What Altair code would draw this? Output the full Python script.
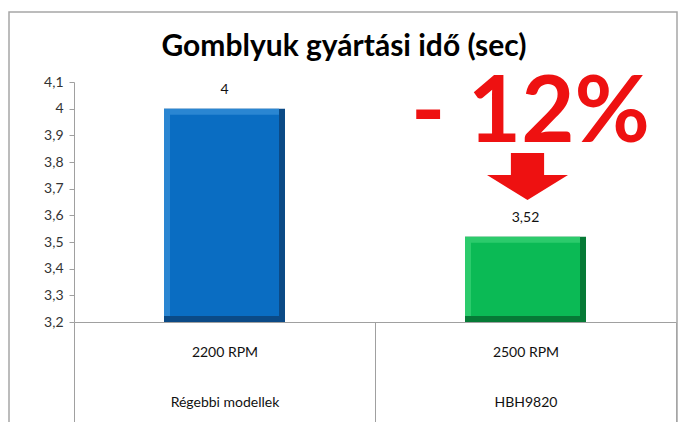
import altair as alt
import pandas as pd

# ---- data ----
rpm = ["2200 RPM", "2500 RPM"]
models = ["Régebbi modellek", "HBH9820"]
values = [4.0, 3.52]
value_labels = ["4", "3,52"]
y_ticks = [3.2, 3.3, 3.4, 3.5, 3.6, 3.7, 3.8, 3.9, 4.0, 4.1]
chart_title = "Gomblyuk gyártási idő (sec)"
change_text = "- 12%"

# ---- styles ----
edge_colors = ["#0b4a86", "#067a36"]
light_colors = ["#2a86d2", "#2ccb6c"]
main_colors = ["#0a6dc2", "#0bba55"]
RED = "#ee1111"
GREY = "#a0a0a0"
FONT = "Lato"

cats = [f"{r}\n{m}" for r, m in zip(rpm, models)]
df = pd.DataFrame({"cat": cats, "value": values, "label": value_labels})
ann = pd.DataFrame({"cat": [cats[1]], "text": [change_text]})
ttl = pd.DataFrame({"text": [chart_title]})

W, H = 602, 240

x = alt.X(
    "cat:N",
    sort=cats,
    scale=alt.Scale(domain=cats, paddingInner=0, paddingOuter=0),
    axis=alt.Axis(
        title=None,
        labelAngle=0,
        labelExpr="split(datum.label, '\\n')",
        labelLineHeight=50,
        labelFontSize=14,
        labelFont=FONT,
        labelColor="#111111",
        labelBaseline="top",
        tickBand="extent",
        tickSize=105,
        tickColor=GREY,
        domainColor=GREY,
        labelPadding=-82,
    ),
)
y = alt.Y(
    "value:Q",
    scale=alt.Scale(domain=[3.2, 4.1], nice=False, zero=False),
    axis=alt.Axis(
        title=None,
        values=y_ticks,
        labelExpr="replace(format(datum.value, '.1~f'), '.', ',')",
        grid=False,
        tickSize=5,
        tickColor=GREY,
        domainColor=GREY,
        labelFont=FONT,
        labelFontSize=14,
        labelColor="#333333",
        labelPadding=6,
    ),
)

base = alt.Chart(df)

def col(rng):
    return alt.Color("cat:N", scale=alt.Scale(domain=cats, range=rng), legend=None)

edge = base.mark_bar(size=121).encode(x=x, y=y, y2=alt.datum(3.2), color=col(edge_colors))
light = base.mark_bar(size=115, xOffset=-3, y2Offset=-6).encode(
    x=x, y=y, y2=alt.datum(3.2), color=col(light_colors)
)
main = base.mark_bar(size=109, yOffset=6, y2Offset=-6).encode(
    x=x, y=y, y2=alt.datum(3.2), color=col(main_colors)
)
labels = base.mark_text(baseline="bottom", dy=-12, fontSize=14, font=FONT, color="#111111").encode(
    x=x, y=y, text="label:N"
)

frame = alt.Chart(ttl).mark_rect(fillOpacity=0, stroke="#a6a6a6", strokeWidth=1.5).encode(
    x=alt.value(-65), x2=alt.value(603), y=alt.value(-70), y2=alt.value(400)
)
title_mark = alt.Chart(ttl).mark_text(
    fontSize=30, font=FONT, fontWeight="bold", color="#000000", align="center", baseline="middle"
).encode(x=alt.value(270), y=alt.value(-35), text="text:N")

big = alt.Chart(ann).mark_text(
    fontSize=92, font=FONT, fontWeight="bold", color=RED,
    align="center", baseline="alphabetic", dx=5
).encode(x=alt.X("cat:N", scale=alt.Scale(domain=cats)), y=alt.value(60), text="text:N")

arrow_path = "M -0.41 -0.58 L 0.41 -0.58 L 0.41 -0.04 L 1 -0.04 L 0 0.58 L -1 -0.04 L -0.41 -0.04 Z"
arrow = alt.Chart(ann).mark_point(
    shape=arrow_path, size=6561, filled=True, color=RED, opacity=1, strokeWidth=0, xOffset=2
).encode(x=alt.X("cat:N", scale=alt.Scale(domain=cats)), y=alt.value(94.5))

chart = (
    alt.layer(frame, title_mark, edge, light, main, labels, big, arrow)
    .resolve_scale(color="independent")
    .properties(
        width=W,
        height=H,
        autosize="none",
        padding={"left": 66, "top": 74, "right": 3, "bottom": 100},
        background="white",
    )
    .configure_view(stroke=None)
)

chart.save("out.html", embed_options={"renderer": "svg", "actions": False})
